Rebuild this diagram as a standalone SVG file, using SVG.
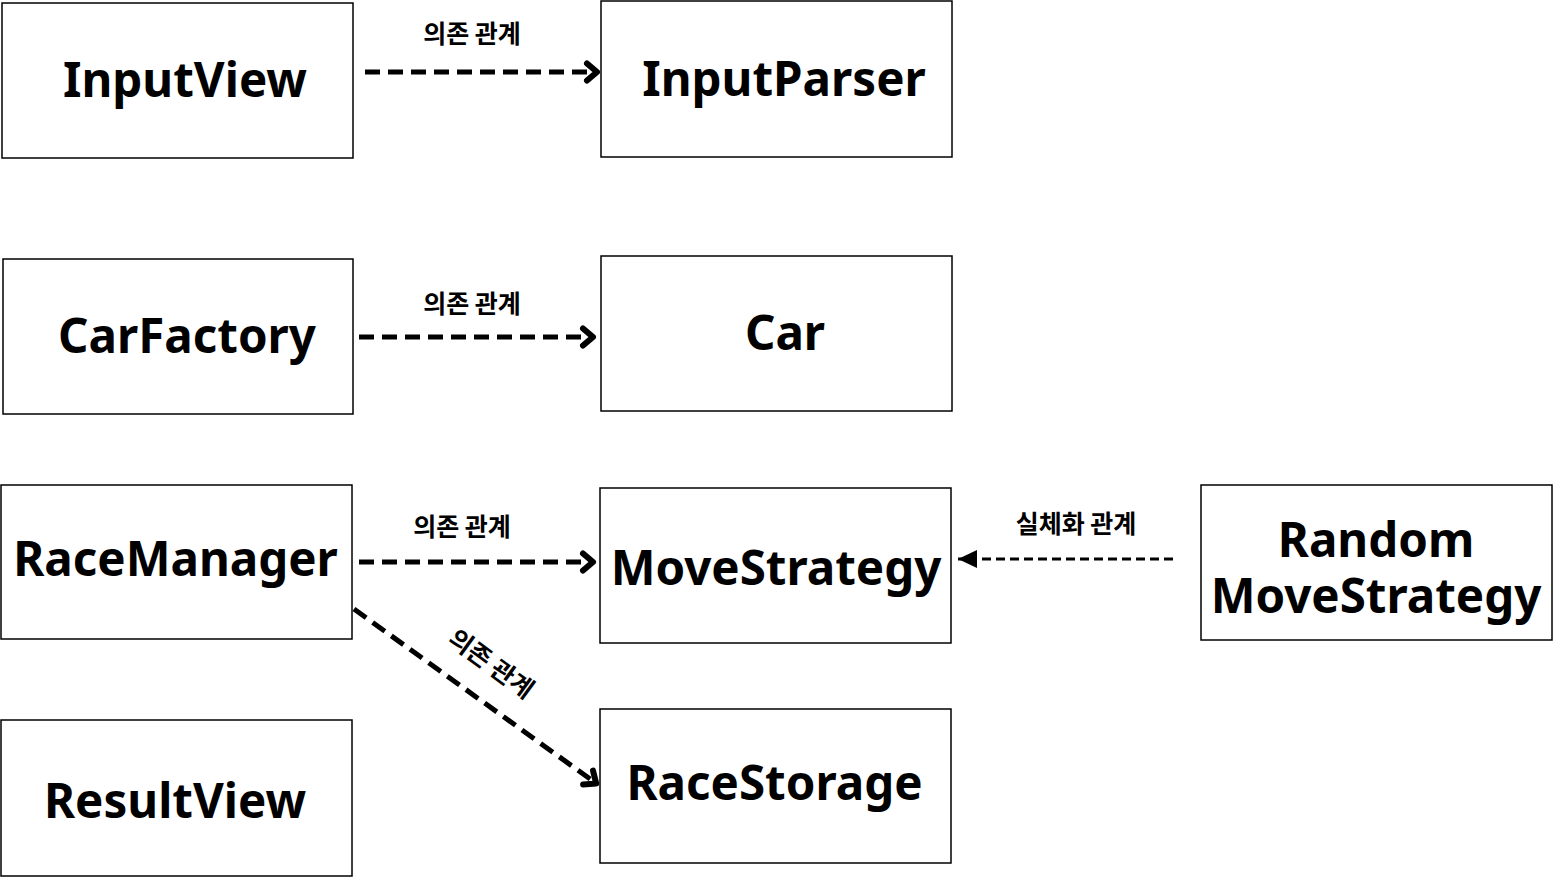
<svg xmlns="http://www.w3.org/2000/svg" width="1555" height="878" viewBox="0 0 1555 878">
<defs>
<style>
.box{fill:#fff;stroke:#000;stroke-width:1.5}
.t{font-family:"Noto Sans","Noto Sans CJK KR",sans-serif;font-weight:bold;font-size:47.5px;text-anchor:middle;fill:#000}
.l{font-family:"Noto Sans CJK KR","Noto Sans",sans-serif;font-weight:bold;font-size:25px;text-anchor:middle;fill:#000}
.dep{fill:none;stroke:#000;stroke-width:5;stroke-dasharray:15 8}
.real{fill:none;stroke:#000;stroke-width:3;stroke-dasharray:9 5}
</style>
<marker id="open" viewBox="0 0 18 24" refX="15" refY="12" markerWidth="18" markerHeight="24" markerUnits="userSpaceOnUse" orient="auto">
<path d="M4,3.5 L14,12 L4,20.5" fill="none" stroke="#000" stroke-width="6" stroke-linecap="round" stroke-linejoin="round"/>
</marker>
<marker id="tri" viewBox="0 0 20 20" refX="19" refY="10" markerWidth="20" markerHeight="20" markerUnits="userSpaceOnUse" orient="auto">
<path d="M0,1 L19,10 L0,19 Z" fill="#000"/>
</marker>
</defs>
<rect width="1555" height="878" fill="#fff"/>
<g id="InputView"><rect class="box" x="2" y="3" width="351" height="155"/><text class="t" x="185" y="97">InputView</text></g>
<g id="InputParser"><rect class="box" x="601" y="1" width="351" height="156"/><text class="t" x="784" y="96">InputParser</text></g>
<g id="CarFactory"><rect class="box" x="3" y="259" width="350" height="155"/><text class="t" x="187" y="353">CarFactory</text></g>
<g id="Car"><rect class="box" x="601" y="256" width="351" height="155"/><text class="t" x="785" y="350">Car</text></g>
<g id="RaceManager"><rect class="box" x="1" y="485" width="351" height="154"/><text class="t" x="175.5" y="576">RaceManager</text></g>
<g id="MoveStrategy"><rect class="box" x="600" y="488" width="351" height="155"/><text class="t" x="776" y="585">MoveStrategy</text></g>
<g id="RandomMoveStrategy"><rect class="box" x="1201" y="485" width="351" height="155"/><text class="t" x="1376" y="557">Random</text><text class="t" x="1376" y="613">MoveStrategy</text></g>
<g id="ResultView"><rect class="box" x="1" y="720" width="351" height="156"/><text class="t" x="175" y="818">ResultView</text></g>
<g id="RaceStorage"><rect class="box" x="600" y="709" width="351" height="154"/><text class="t" x="774.5" y="800">RaceStorage</text></g>
<g id="connectors">
<path class="dep" d="M365,72 L598,72" marker-end="url(#open)"/>
<text class="l" x="472" y="43">의존 관계</text>
<path class="dep" d="M359,337 L594,337" marker-end="url(#open)"/>
<text class="l" x="472" y="313">의존 관계</text>
<path class="dep" d="M359,562 L594,562" marker-end="url(#open)"/>
<text class="l" x="462" y="536">의존 관계</text>
<path class="real" d="M1173,559 L958,559" marker-end="url(#tri)"/>
<text class="l" x="1076" y="533">실체화 관계</text>
<path class="dep" d="M354,609 L597,784" marker-end="url(#open)"/>
<text class="l" transform="translate(486,671) rotate(36)" x="0" y="0">의존 관계</text>
</g>
</svg>
